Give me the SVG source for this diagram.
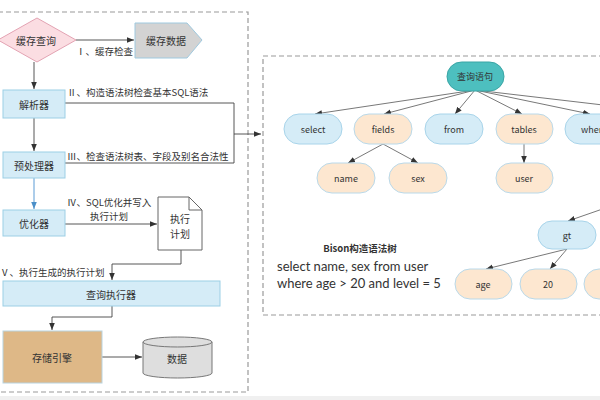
<svg xmlns="http://www.w3.org/2000/svg" width="600" height="400" viewBox="0 0 600 400">
<defs>
<marker id="ah" viewBox="0 0 10 10" refX="10" refY="5" markerWidth="7" markerHeight="7" orient="auto" markerUnits="userSpaceOnUse"><path d="M0,1 L10,5 L0,9 z" fill="#333"/></marker>
<marker id="ahb" viewBox="0 0 10 10" refX="10" refY="5" markerWidth="7" markerHeight="7" orient="auto" markerUnits="userSpaceOnUse"><path d="M0,1 L10,5 L0,9 z" fill="#4a8fc8"/></marker>
<style>
text{font-family:"Noto Sans CJK SC","Noto Sans",sans-serif;fill:#333}
.lbl{font-size:9.5px}
.nt{font-size:10px;text-anchor:middle;dominant-baseline:central}
.tt{font-size:9px;text-anchor:middle;dominant-baseline:central}
.box{fill:#d5ecf7;stroke:#9ccfe5;stroke-width:1}
.blue{fill:#d5ecf7;stroke:#a8d4ea;stroke-width:1}
.peach{fill:#fde7d0;stroke:#b9d9ea;stroke-width:1}
.dash{fill:none;stroke:#9a9a9a;stroke-width:1.2;stroke-dasharray:5,3}
.ln{fill:none;stroke:#444;stroke-width:0.9}
.tl{fill:none;stroke:#555;stroke-width:0.8}
.cap{font-family:Lato,"Liberation Sans",sans-serif;font-size:13px}
</style>
</defs>
<rect x="0" y="0" width="600" height="400" fill="#fff"/>
<rect x="0" y="396" width="600" height="4" fill="#f0f0f0"/>
<rect x="-2" y="12" width="250" height="380" class="dash"/>
<rect x="263" y="56" width="345" height="259" class="dash"/>

<g id="connectors">
<path class="ln" d="M76,40 H134" marker-end="url(#ah)"/>
<path class="ln" d="M34,62 V89" marker-end="url(#ah)"/>
<path class="ln" d="M34,118 V151" marker-end="url(#ah)"/>
<path d="M34,178 V209" fill="none" stroke="#5b9bd5" stroke-width="1" marker-end="url(#ahb)"/>
<path class="ln" d="M65,103 H234 V163 H65"/>
<path class="ln" d="M234,134 H261" marker-end="url(#ah)"/>
<path class="ln" d="M65,224 H157" marker-end="url(#ah)"/>
<path class="ln" d="M181,250 V264 H112 V280" marker-end="url(#ah)"/>
<path class="ln" d="M112,306 V317 H52 V330" marker-end="url(#ah)"/>
<path class="ln" d="M102,357 H142" marker-end="url(#ah)"/>
<path class="tl" d="M475,90 L315,114" marker-end="url(#ah)"/>
<path class="tl" d="M475,90 L384,114" marker-end="url(#ah)"/>
<path class="tl" d="M475,90 L455,114" marker-end="url(#ah)"/>
<path class="tl" d="M475,90 L522,114" marker-end="url(#ah)"/>
<path class="tl" d="M475,90 L590,114" marker-end="url(#ah)"/>
<path class="tl" d="M475,90 L680,114"/>
<path class="tl" d="M383,144 L348,163" marker-end="url(#ah)"/>
<path class="tl" d="M383,144 L418,163" marker-end="url(#ah)"/>
<path class="tl" d="M524,144 V163" marker-end="url(#ah)"/>
<path class="tl" d="M640,196 L568,221" marker-end="url(#ah)"/>
<path class="tl" d="M567,249 L486,269" marker-end="url(#ah)"/>
<path class="tl" d="M567,249 L550,269" marker-end="url(#ah)"/>
</g>

<g id="labels">
<text class="lbl" x="76" y="55">Ⅰ、缓存检查</text>
<text class="lbl" x="67" y="96">Ⅱ、构造语法树检查基本SQL语法</text>
<text class="lbl" x="67" y="160">Ⅲ、检查语法树表、字段及别名合法性</text>
<text class="lbl" x="67" y="206" font-size="9">Ⅳ、SQL优化并写入</text>
<text class="lbl" x="90" y="220" font-size="9">执行计划</text>
<text class="lbl" x="0" y="276">Ⅴ、执行生成的执行计划</text>
</g>

<g id="n-cache-query"><path d="M37,18 L76,40 L37,62 L-2,40 z" fill="#fbdde2" stroke="#e3a3b3"/><text class="nt" x="36" y="40">缓存查询</text></g>
<g id="n-cache-data"><path d="M135,23 H187 L202,40 L187,58 H135 z" fill="#d3d3d3" stroke="#9fc9df"/><text class="nt" x="166" y="40">缓存数据</text></g>
<g id="n-parser"><rect class="box" x="3" y="90" width="62" height="28"/><text class="nt" x="34" y="104">解析器</text></g>
<g id="n-preproc"><rect class="box" x="3" y="152" width="62" height="26"/><text class="nt" x="34" y="165">预处理器</text></g>
<g id="n-optimizer"><rect class="box" x="3" y="210" width="62" height="26"/><text class="nt" x="34" y="223">优化器</text></g>
<g id="n-plan"><path d="M158,197 H189 L202,210 V250 H158 z" fill="#fff" stroke="#666"/><path d="M189,197 V210 H202" fill="none" stroke="#666"/><text class="nt" x="180" y="218">执行</text><text class="nt" x="180" y="233">计划</text></g>
<g id="n-executor"><rect class="box" x="3" y="281" width="217" height="25"/><text class="nt" x="111" y="294">查询执行器</text></g>
<g id="n-storage"><rect x="3" y="331" width="99" height="52" fill="#deb887" stroke="#b8d3e0"/><text class="nt" x="52" y="357">存储引擎</text></g>
<g id="n-data"><path d="M143,342 V373 A34.5,5 0 0 0 212,373 V342" fill="#dedede" stroke="#777"/><ellipse cx="177.5" cy="342" rx="34.5" ry="5" fill="#dedede" stroke="#777"/><text class="nt" x="177" y="358">数据</text></g>

<g id="t-root"><rect x="447" y="62" width="57" height="29" rx="14.5" fill="#4dbfbf" stroke="#3aa5a5"/><text class="tt" x="475" y="76">查询语句</text></g>
<g id="t-select"><rect class="blue" x="284" y="114" width="58" height="30" rx="15"/><text class="tt" x="313" y="129">select</text></g>
<g id="t-fields"><rect class="peach" x="354" y="114" width="58" height="30" rx="15"/><text class="tt" x="383" y="129">fields</text></g>
<g id="t-from"><rect class="blue" x="425" y="114" width="58" height="30" rx="15"/><text class="tt" x="454" y="129">from</text></g>
<g id="t-tables"><rect class="peach" x="496" y="114" width="57" height="30" rx="15"/><text class="tt" x="524" y="129">tables</text></g>
<g id="t-where"><rect class="blue" x="565" y="114" width="58" height="30" rx="15"/><text class="tt" x="594" y="129">where</text></g>
<g id="t-name"><rect class="peach" x="317" y="163" width="58" height="30" rx="15"/><text class="tt" x="346" y="178">name</text></g>
<g id="t-sex"><rect class="peach" x="389" y="163" width="58" height="30" rx="15"/><text class="tt" x="418" y="178">sex</text></g>
<g id="t-user"><rect class="peach" x="496" y="163" width="57" height="30" rx="15"/><text class="tt" x="524" y="178">user</text></g>
<g id="t-gt"><rect class="blue" x="538" y="221" width="58" height="28" rx="14"/><text class="tt" x="567" y="235">gt</text></g>
<g id="t-age"><rect class="peach" x="455" y="269" width="57" height="30" rx="15"/><text class="tt" x="483" y="284">age</text></g>
<g id="t-20"><rect class="peach" x="520" y="269" width="57" height="30" rx="15"/><text class="tt" x="548" y="284">20</text></g>
<g id="t-x"><rect class="peach" x="584" y="269" width="57" height="30" rx="15"/></g>

<g id="caption">
<text x="360" y="252" font-size="9.5" font-weight="bold" text-anchor="middle">Bison构造语法树</text>
<text class="cap" x="277" y="271">select name, sex from user</text>
<text class="cap" x="277" y="288">where age &gt; 20 and level = 5</text>
</g>
</svg>
